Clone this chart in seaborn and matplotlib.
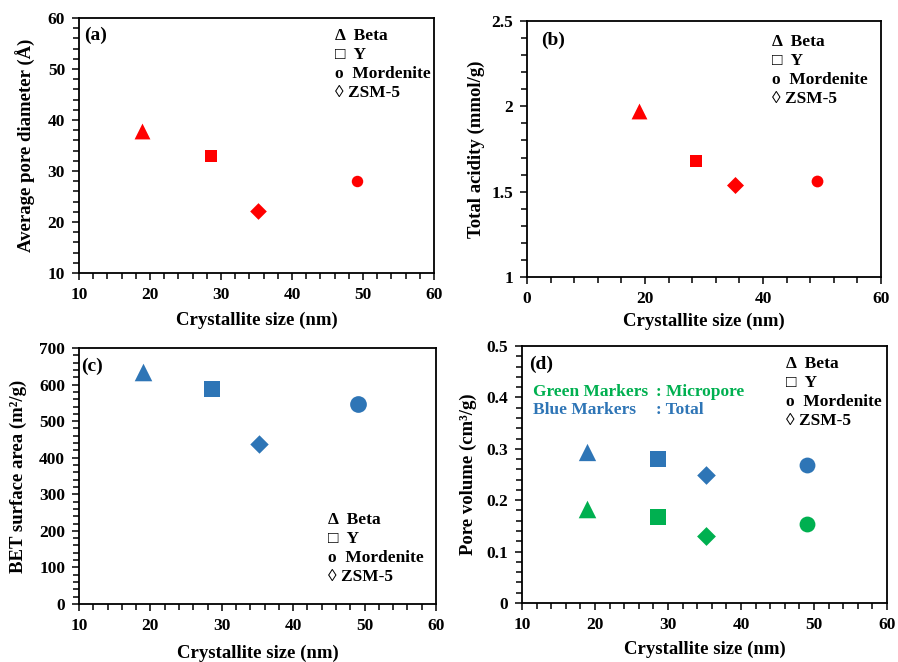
import matplotlib
matplotlib.use("Agg")
import matplotlib.pyplot as plt
import seaborn as sns
import pandas as pd
from matplotlib.ticker import MultipleLocator

sns.set_theme(style="white")
plt.rcParams['font.family'] = ['Liberation Serif', 'DejaVu Serif']
plt.rcParams['font.weight'] = 'bold'
plt.rcParams['mathtext.default'] = 'regular'

# ---------------- data ----------------
zeolites = ["Beta", "Y", "ZSM-5", "Mordenite"]
crystallite_size = [18.9, 28.6, 35.2, 49.1]
avg_pore_diameter = [37.9, 33.0, 22.1, 28.0]
total_acidity = [1.97, 1.68, 1.54, 1.565]
bet_surface_area = [635, 587, 438, 548]
pore_volume_total = [0.294, 0.281, 0.249, 0.268]
pore_volume_micro = [0.183, 0.167, 0.130, 0.153]

legend_labels = ["\u0394  Beta", "\u25a1  Y", "o  Mordenite", "\u25ca ZSM-5"]

RED = "#FF0000"
BLUE = "#2E75B6"
GREEN = "#00B050"
markers = {"Beta": "^", "Y": "s", "ZSM-5": "D", "Mordenite": "o"}

W, H = 898, 662
fig = plt.figure(figsize=(W / 100, H / 100), dpi=100)


def add_ax(l, r, t, b):
    return fig.add_axes([l / W, 1 - b / H, (r - l) / W, (b - t) / H])


def style(ax, box, xlim, xmaj, xmin, ylim, ymaj, ymin, xlabel, ylabel,
          xlab_y, ylab_x, tag, tag_xy, ytick_labels=None):
    l, r, t, b = box
    ax.set_xlim(*xlim)
    ax.set_ylim(*ylim)
    ax.xaxis.set_major_locator(MultipleLocator(xmaj))
    ax.xaxis.set_minor_locator(MultipleLocator(xmin))
    ax.yaxis.set_major_locator(MultipleLocator(ymaj))
    ax.yaxis.set_minor_locator(MultipleLocator(ymin))
    if ytick_labels is not None:
        ax.set_yticks(ytick_labels[0])
        ax.set_yticklabels(ytick_labels[1])
    ax.tick_params(which="both", direction="out", bottom=True, left=True,
                   top=False, right=False, color="black", width=1.1)
    ax.tick_params(which="major", length=5, labelsize=12.5, pad=5,
                   labelcolor="black")
    ax.tick_params(which="minor", length=4)
    for lab in ax.get_xticklabels() + ax.get_yticklabels():
        lab.set_fontweight("bold")
    for s in ax.spines.values():
        s.set_color("black")
        s.set_linewidth(1.3)
        s.set_visible(True)
    ax.set_xlabel(xlabel, fontsize=13.5, fontweight="bold", color="black")
    ax.set_ylabel(ylabel, fontsize=13.5, fontweight="bold", color="black")
    ax.xaxis.set_label_coords(0.5, (b - xlab_y) / (b - t))
    ax.xaxis.label.set_verticalalignment("center")
    ax.yaxis.set_label_coords((ylab_x - l) / (r - l), 0.5)
    ax.yaxis.label.set_verticalalignment("center")
    ax.grid(False)
    fig.text(tag_xy[0] / W, 1 - tag_xy[1] / H, tag, fontsize=14,
             fontweight="bold", va="center", ha="left", color="black")


def legend_text(x, ys):
    for lab, y in zip(legend_labels, ys):
        fig.text(x / W, 1 - y / H, lab, fontsize=12.5, fontweight="bold",
                 va="center", ha="left", color="black")


def draw(ax, yvals, color, sizes):
    df = pd.DataFrame({"size": crystallite_size, "val": yvals, "zeolite": zeolites})
    for z in zeolites:
        sub = df[df["zeolite"] == z]
        sns.scatterplot(data=sub, x="size", y="val", marker=markers[z],
                        s=sizes[z], color=color, linewidth=0, ax=ax,
                        legend=False, zorder=3)


# (a)
box_a = (79, 434, 18, 273)
ax_a = add_ax(*box_a)
draw(ax_a, avg_pore_diameter, RED, {"Beta": 130, "Y": 66, "ZSM-5": 72, "Mordenite": 68})
style(ax_a, box_a, (10, 60), 10, 2, (10, 60), 10, 2,
      "Crystallite size (nm)", "Average pore diameter (\u00c5)",
      320, 26, "(a)", (84, 35))
legend_text(335, [36, 55, 74, 93])

# (b)
box_b = (527, 881, 21, 277)
ax_b = add_ax(*box_b)
draw(ax_b, total_acidity, RED, {"Beta": 130, "Y": 68, "ZSM-5": 75, "Mordenite": 72})
style(ax_b, box_b, (0, 60), 20, 4, (1, 2.5), 0.5, 0.1,
      "Crystallite size (nm)", "Total acidity (mmol/g)",
      321, 476, "(b)", (541, 40),
      ytick_labels=([1, 1.5, 2, 2.5], ["1", "1.5", "2", "2.5"]))
legend_text(772, [42, 61, 80, 99])

# (c)
box_c = (79, 436, 348, 604)
ax_c = add_ax(*box_c)
draw(ax_c, bet_surface_area, BLUE, {"Beta": 160, "Y": 120, "ZSM-5": 88, "Mordenite": 145})
style(ax_c, box_c, (10, 60), 10, 2, (0, 700), 100, 20,
      "Crystallite size (nm)", "BET surface area (m\u00b2/g)",
      653, 18, "(c)", (81, 366))
legend_text(328, [520, 539, 558, 577])

# (d)
box_d = (522, 887, 346, 603)
ax_d = add_ax(*box_d)
draw(ax_d, pore_volume_total, BLUE, {"Beta": 155, "Y": 120, "ZSM-5": 90, "Mordenite": 130})
draw(ax_d, pore_volume_micro, GREEN, {"Beta": 160, "Y": 145, "ZSM-5": 92, "Mordenite": 130})
style(ax_d, box_d, (10, 60), 10, 2, (0, 0.5), 0.1, 0.02,
      "Crystallite size (nm)", "Pore volume (cm\u00b3/g)",
      649, 468, "(d)", (529, 364),
      ytick_labels=([0, 0.1, 0.2, 0.3, 0.4, 0.5],
                    ["0", "0.1", "0.2", "0.3", "0.4", "0.5"]))
legend_text(786, [364, 383, 402, 421])
fig.text(533 / W, 1 - 392 / H, "Green Markers", fontsize=12.5, fontweight="bold",
         color=GREEN, va="center", ha="left")
fig.text(656 / W, 1 - 392 / H, ": Micropore", fontsize=12.5, fontweight="bold",
         color=GREEN, va="center", ha="left")
fig.text(533 / W, 1 - 410 / H, "Blue Markers", fontsize=12.5, fontweight="bold",
         color=BLUE, va="center", ha="left")
fig.text(656 / W, 1 - 410 / H, ": Total", fontsize=12.5, fontweight="bold",
         color=BLUE, va="center", ha="left")

fig.savefig("out.png", dpi=100, facecolor="white")
